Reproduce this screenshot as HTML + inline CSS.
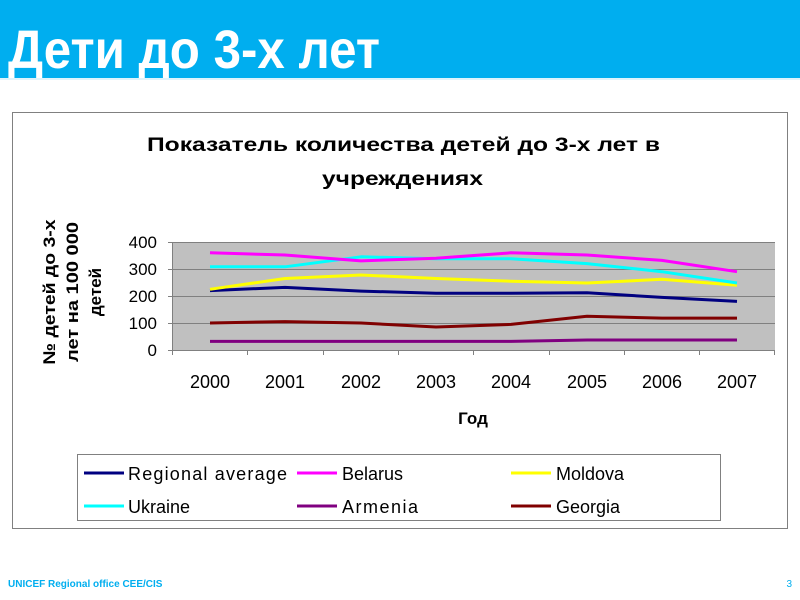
<!DOCTYPE html>
<html><head><meta charset="utf-8"><style>
html,body{margin:0;padding:0;background:#fff;}
svg{display:block;font-family:"Liberation Sans",sans-serif;}
</style></head><body>
<svg width="800" height="600" viewBox="0 0 800 600" xmlns="http://www.w3.org/2000/svg">
<rect x="0" y="0" width="800" height="78" fill="#00aeef"/>
<line x1="0" y1="79" x2="800" y2="79" stroke="#bfe9fa" stroke-width="1"/>
<text x="8" y="68" font-size="54" font-weight="bold" fill="#fff" textLength="372" lengthAdjust="spacingAndGlyphs">Дети до 3-х лет</text>
<rect x="12.5" y="112.5" width="775" height="416" fill="#fff" stroke="#808080" stroke-width="1"/>
<text x="147" y="151" font-size="19" font-weight="bold" fill="#000" textLength="513" lengthAdjust="spacingAndGlyphs">Показатель количества детей до 3-х лет в</text>
<text x="322" y="185" font-size="19" font-weight="bold" fill="#000" textLength="161" lengthAdjust="spacingAndGlyphs">учреждениях</text>
<g font-size="17" font-weight="bold" fill="#000" text-anchor="middle">
<text transform="translate(55,292) rotate(-90)" textLength="145" lengthAdjust="spacingAndGlyphs">№ детей до 3-х</text>
<text transform="translate(78,292) rotate(-90)" textLength="140" lengthAdjust="spacingAndGlyphs">лет на 100 000</text>
<text transform="translate(101,292) rotate(-90)">детей</text>
</g>
<rect x="172" y="242" width="603" height="108" fill="#c0c0c0"/>
<g stroke="#808080" stroke-width="1">
<line x1="172" y1="242.5" x2="775" y2="242.5"/>
<line x1="172" y1="269.5" x2="775" y2="269.5"/>
<line x1="172" y1="296.5" x2="775" y2="296.5"/>
<line x1="172" y1="323.5" x2="775" y2="323.5"/>
<line x1="168" y1="350.5" x2="775" y2="350.5"/>
<line x1="172.5" y1="242" x2="172.5" y2="350"/>
<line x1="168" y1="242.5" x2="172" y2="242.5"/>
<line x1="168" y1="269.5" x2="172" y2="269.5"/>
<line x1="168" y1="296.5" x2="172" y2="296.5"/>
<line x1="168" y1="323.5" x2="172" y2="323.5"/>
<path d="M172.5 350v5M247.5 350v5M323.5 350v5M398.5 350v5M473.5 350v5M549.5 350v5M624.5 350v5M699.5 350v5M774.5 350v5"/>
</g>
<g font-size="17" fill="#000" text-anchor="end">
<text x="157" y="248">400</text><text x="157" y="275">300</text><text x="157" y="302">200</text><text x="157" y="329">100</text><text x="157" y="356">0</text>
</g>
<g font-size="18" fill="#000" text-anchor="middle">
<text x="210" y="388">2000</text><text x="285" y="388">2001</text><text x="361" y="388">2002</text><text x="436" y="388">2003</text><text x="511" y="388">2004</text><text x="587" y="388">2005</text><text x="662" y="388">2006</text><text x="737" y="388">2007</text>
</g>
<text x="473" y="424" font-size="17" font-weight="bold" text-anchor="middle">Год</text>
<g fill="none" stroke-width="3" stroke-linejoin="round">
<polyline stroke="#800080" points="210,341.4 285,341.4 361,341.4 436,341.4 511,341.4 587,340 662,340 737,340"/>
<polyline stroke="#800000" points="210,323 285,321.6 361,323 436,327 511,324.4 587,316.3 662,318.1 737,318.1"/>
<polyline stroke="#000080" points="210,290.6 285,287.4 361,291.1 436,293.3 511,293.3 587,292.8 662,297.4 737,301.4"/>
<polyline stroke="#ffff00" points="210,289.3 285,278.5 361,275 436,278.5 511,281.2 587,283 662,279.3 737,285.2"/>
<polyline stroke="#00ffff" points="210,266.8 285,266.8 361,256.8 436,258.7 511,258.7 587,263.6 662,271.7 737,283"/>
<polyline stroke="#ff00ff" points="210,252.8 285,255 361,260.9 436,258.2 511,252.8 587,255 662,260.4 737,271.7"/>
</g>
<rect x="77.5" y="454.5" width="643" height="66" fill="#fff" stroke="#808080" stroke-width="1"/>
<g stroke-width="3">
<line x1="84" y1="473" x2="124" y2="473" stroke="#000080"/>
<line x1="297" y1="473" x2="337" y2="473" stroke="#ff00ff"/>
<line x1="511" y1="473" x2="551" y2="473" stroke="#ffff00"/>
<line x1="84" y1="506" x2="124" y2="506" stroke="#00ffff"/>
<line x1="297" y1="506" x2="337" y2="506" stroke="#800080"/>
<line x1="511" y1="506" x2="551" y2="506" stroke="#800000"/>
</g>
<g font-size="18" fill="#000">
<text x="128" y="480" textLength="159" lengthAdjust="spacing">Regional average</text>
<text x="342" y="480">Belarus</text>
<text x="556" y="480">Moldova</text>
<text x="128" y="513">Ukraine</text>
<text x="342" y="513" textLength="76" lengthAdjust="spacing">Armenia</text>
<text x="556" y="513">Georgia</text>
</g>
<text x="8" y="587" font-size="10" font-weight="bold" fill="#00aeef">UNICEF Regional office CEE/CIS</text>
<text x="792" y="587" font-size="10" fill="#00aeef" text-anchor="end">3</text>
</svg>
</body></html>
